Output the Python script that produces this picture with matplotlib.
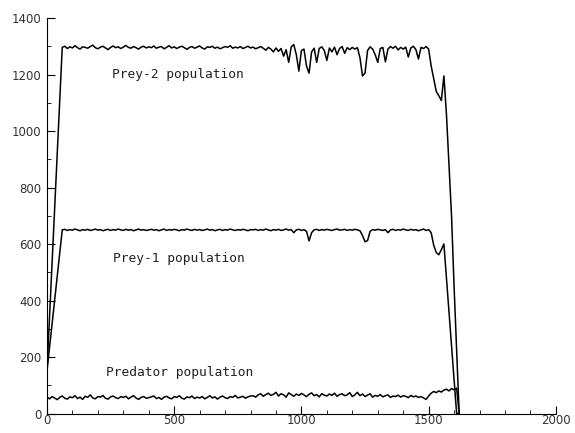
import numpy as np
import matplotlib
matplotlib.use("Agg")
import matplotlib.pyplot as plt
from matplotlib.ticker import MultipleLocator

# time steps (sampled every 10 units after the initial ramp)
t_prey = [0] + list(np.arange(60, 1630, 10))
t_pred = list(np.arange(0, 1630, 10))

prey2 = [150,
    1296, 1300, 1292, 1298, 1294, 1302, 1295, 1290, 1298, 1296,
    1293, 1299, 1304, 1295, 1291, 1297, 1300, 1294, 1288, 1296,
    1301, 1295, 1298, 1292, 1297, 1303, 1296, 1293, 1299, 1295,
    1290, 1297, 1300, 1294, 1298,
    1295, 1301, 1293, 1297, 1299, 1291, 1296, 1302, 1294, 1298,
    1292, 1297, 1300, 1295, 1289, 1296, 1299, 1293, 1297, 1301,
    1294, 1290, 1298, 1296, 1300, 1293, 1297, 1291, 1295, 1299,
    1296, 1302, 1293, 1297, 1294, 1299, 1292, 1296, 1300, 1294,
    1297, 1291, 1295, 1299, 1293, 1286, 1296, 1290, 1280, 1294,
    1282, 1292, 1265, 1288, 1243, 1298, 1306, 1270, 1212, 1285,
    1290, 1230, 1205, 1280, 1293, 1243, 1292, 1298, 1285, 1250,
    1294, 1280, 1297, 1270, 1292, 1299, 1275, 1295, 1288, 1296,
    1290, 1295, 1260, 1195, 1205, 1285, 1298, 1290, 1270, 1243,
    1292, 1296, 1245, 1290, 1299, 1293, 1300, 1287, 1296, 1290,
    1297, 1262, 1294, 1300, 1288, 1255, 1296, 1292, 1299, 1290,
    1230, 1185, 1140, 1125, 1108, 1195, 1060, 880, 700, 450, 220, 0]

prey1 = [150,
    650, 652, 648, 651, 649, 653, 650, 647, 651, 649,
    652, 648, 650, 653, 649, 651, 647, 650, 652, 648,
    651, 649, 653, 650, 648, 652, 649, 651, 647, 650,
    653, 649, 651, 648, 650,
    652, 649, 651, 647, 650, 653, 648, 651, 649, 652,
    650, 647, 651, 649, 653, 650, 648, 652, 649, 651,
    648, 650, 653, 649, 651, 647, 650, 652, 648, 651,
    649, 653, 650, 648, 651, 649, 652, 650, 647, 651,
    650, 652, 648, 651, 649, 653, 650, 647, 651, 649,
    652, 648, 650, 653, 649, 651, 640, 650, 652, 648,
    651, 645, 611, 640, 650, 652, 648, 651, 649, 652,
    650, 648, 651, 653, 649, 650, 652, 648, 651, 649,
    652, 650, 647, 630, 608, 612, 645, 651, 649, 652,
    650, 648, 651, 640, 650, 652, 648, 651, 649, 653,
    650, 648, 652, 649, 651, 647, 650, 653, 648, 651,
    640, 595, 570, 562, 580, 600, 480, 360, 240, 120, 0, 0]

predator = [
    58, 52, 60, 55, 49, 57, 62, 54, 51, 59,
    56, 63, 53, 58, 50, 61, 57, 66, 55, 52,
    60, 58, 64, 54, 51, 59, 62, 56, 53, 60,
    57, 61, 52, 58, 63, 55, 50, 57, 60, 54, 56,
    59, 62, 53, 57, 50, 58, 61, 55, 52, 60,
    57, 63, 54, 51, 59, 56, 62, 53, 58, 55,
    60, 52, 57, 63, 55, 59, 51, 58, 62, 56,
    53, 60, 57, 64, 55, 58, 61, 54, 59, 62,
    63, 58, 66, 70, 61, 67, 72, 64, 68, 75,
    62, 70, 66, 58, 73, 67, 61, 69, 64, 71,
    66, 60, 68, 73, 63, 67, 59, 70, 65, 62,
    69, 64, 72, 61, 67, 70, 63, 66, 74, 60,
    66, 75, 63, 69, 60, 65, 70, 58, 64, 61,
    67, 59, 63, 66, 57, 62, 60, 65, 58, 63,
    61, 56, 64, 59, 62, 57, 60, 55, 50, 62,
    72, 78, 74, 80, 76, 83, 86, 80, 88, 84, 90, 0]

labels = ["Prey-2 population", "Prey-1 population", "Predator population"]
label_pos = [(255, 1200), (258, 550), (232, 146)]

fig = plt.figure(figsize=(5.75, 4.33), dpi=100)
ax = fig.add_axes([0.0817, 0.045, 0.885, 0.9134])

ax.plot(t_prey, prey2, color="black", lw=1.1)
ax.plot(t_prey, prey1, color="black", lw=1.1)
ax.plot(t_pred, predator, color="black", lw=1.1)

for txt, (x, y) in zip(labels, label_pos):
    ax.text(x, y, txt, fontsize=9.3, family="DejaVu Sans Mono",
            ha="left", va="center", color="#222222")

ax.set_xlim(0, 2000)
ax.set_ylim(0, 1400)
ax.spines["top"].set_visible(False)
ax.spines["right"].set_visible(False)
ax.xaxis.set_major_locator(MultipleLocator(500))
ax.xaxis.set_minor_locator(MultipleLocator(100))
ax.yaxis.set_major_locator(MultipleLocator(200))
ax.yaxis.set_minor_locator(MultipleLocator(100))
ax.tick_params(axis="both", which="major", direction="in", length=6,
               labelsize=8.5, labelcolor="#333333")
ax.tick_params(axis="y", which="major", pad=4)
ax.tick_params(axis="x", which="major", pad=0.5)
ax.tick_params(axis="both", which="minor", direction="in", length=3)

fig.savefig("out.png", dpi=100)
